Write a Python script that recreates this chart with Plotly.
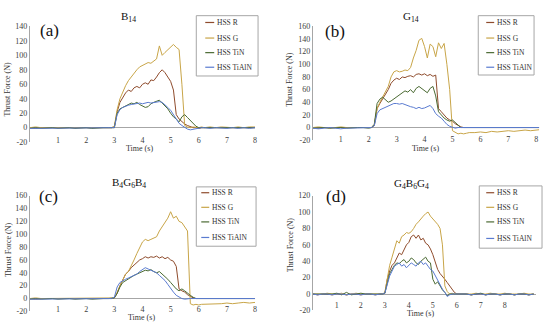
import numpy as np
import plotly.graph_objects as go

W, H = 550, 331
FONT = "Liberation Serif"

series_names = ["HSS R", "HSS G", "HSS TiN", "HSS TiAlN"]
colors = ["#8e4b2c", "#c8a548", "#4b6a33", "#5a7bd0"]

panel_titles = ["B<sub>14</sub>", "G<sub>14</sub>", "B<sub>4</sub>G<sub>6</sub>B<sub>4</sub>", "G<sub>4</sub>B<sub>6</sub>G<sub>4</sub>"]
panel_labels = ["(a)", "(b)", "(c)", "(d)"]
x_tick_values = [1, 2, 3, 4, 5, 6, 7, 8]
y_ticks_a = [-20, 0, 20, 40, 60, 80, 100, 120, 140]
y_ticks_b = [-20, 0, 20, 40, 60, 80, 100, 120, 140, 160]
y_ticks_c = [-20, 0, 20, 40, 60, 80, 100, 120, 140, 160]
y_ticks_d = [-20, 0, 20, 40, 60, 80, 100, 120]


def tgrid(pre_end, act_start, act_end, post_start, post_end):
    pre = np.arange(0, pre_end + 1e-9, 0.2)
    act = np.arange(act_start, act_end + 1e-9, 0.1)
    post = np.arange(post_start, post_end + 1e-9, 0.2)
    return np.round(np.concatenate([pre, act, post]), 2)


# time grids (s)
t_a = tgrid(2.8, 2.9, 6.2, 6.4, 8.0)
t_b = tgrid(2.0, 2.1, 5.6, 5.8, 8.2)
t_c = tgrid(2.8, 2.9, 6.2, 6.4, 8.0)
t_d = tgrid(2.8, 2.9, 6.2, 6.4, 9.2)

# ---- (a) B14 ----
a_R = [0,-1,0,0,-1,0,0,-1,0,0,-1,0,0,-1,0,
       0,1,22,35,42,48,52,50,55,57,55,60,62,60,66,65,70,76,80,76,70,64,52,18,12,8,5,3,1,0,0,-1,0,0,
       0,-1,0,0,-1,0,0,-1,0]
a_G = [0,1,0,0,1,0,1,0,0,1,0,0,1,0,0,
       0,2,25,40,50,58,65,70,76,80,84,86,88,90,89,92,95,113,100,104,108,112,115,111,108,60,3,1,0,1,0,0,1,0,
       1,0,1,0,0,1,0,1,1]
a_TiN = [-1,0,-1,0,0,-1,0,0,-1,0,0,-1,0,0,0,
         0,0,20,26,28,30,32,34,33,35,32,30,28,29,33,35,37,38,34,30,26,20,15,12,8,15,18,14,10,5,2,0,0,0,
         0,0,-1,0,0,-1,0,0,0]
a_TiAlN = [-1,-1,0,-1,-1,0,-1,-1,0,-1,0,-1,-1,0,-1,
           0,0,18,25,28,30,31,32,33,33,34,33,34,35,34,35,36,36,35,32,28,24,18,12,6,3,0,-2,-3,-2,-1,0,0,0,
           -1,0,-1,-1,0,-1,0,-1,0]

# ---- (b) G14 ----
b_R = [0,-1,0,0,-1,0,-1,0,0,-1,0,
       0,3,30,38,45,52,60,70,75,78,76,80,79,81,82,80,84,85,83,85,82,84,81,83,30,25,20,15,12,10,6,3,1,0,0,0,
       0,1,0,0,1,0,0,1,0,0,1,0,0]
b_G = [0,1,0,-1,0,1,0,0,1,0,0,
       0,5,30,40,48,55,65,80,88,90,88,89,91,90,95,110,122,138,141,128,110,132,128,112,134,125,133,100,60,-5,-8,-10,-9,-10,-9,-8,
       -8,-7,-8,-6,-7,-6,-5,-6,-5,-4,-5,-4,-3]
b_TiN = [-1,0,0,-1,0,0,-1,0,0,0,-1,
         0,5,38,45,48,44,40,42,45,48,52,55,58,56,60,55,62,65,62,58,55,62,65,50,25,20,15,12,10,12,8,3,0,0,0,0,
         0,0,-1,0,0,0,-1,0,0,0,-1,0,0]
b_TiAlN = [-1,-2,-1,0,-1,-2,-1,-1,0,-1,-1,
           0,3,22,28,30,32,34,36,38,38,37,38,36,35,33,32,30,32,30,31,33,35,30,22,18,15,10,5,2,0,-1,0,0,0,0,0,
           0,-1,0,0,-1,0,0,-1,0,0,-1,0,0]

# ---- (c) B4G6B4 ----
c_R = [0,-1,0,0,-1,0,0,-1,0,0,-1,0,0,-1,0,
       0,1,8,20,30,38,42,48,52,56,60,62,65,63,65,64,66,63,65,62,64,60,58,50,15,12,10,6,3,1,0,0,0,0,
       0,-1,0,0,-1,0,0,-1,0]
c_G = [0,1,0,0,1,0,1,0,0,1,0,0,1,0,0,
       0,1,10,20,30,38,42,50,60,70,80,88,92,90,92,94,96,105,112,120,125,135,125,128,120,118,112,105,-8,-10,-9,-10,-9,-9,
       -8,-9,-8,-7,-8,-7,-6,-7,-6]
c_TiN = [-1,0,-1,0,0,-1,0,0,-1,0,0,-1,0,0,0,
         0,1,8,18,25,28,30,33,36,38,40,42,44,43,45,42,40,42,38,35,30,25,20,15,12,15,12,8,5,2,0,0,0,0,
         0,0,-1,0,0,-1,0,0,0]
c_TiAlN = [-1,-1,0,-1,-1,0,-1,-1,0,-1,0,-1,-1,0,-1,
           0,2,18,25,28,30,32,34,36,38,42,45,48,46,44,42,40,36,32,28,22,15,10,5,2,0,-1,0,0,0,0,0,0,0,
           -1,0,-1,-1,0,-1,0,-1,0]

# ---- (d) G4B6G4 ----
d_R = [0,-1,0,0,-1,0,0,-1,0,0,-1,0,0,-1,0,
       0,1,18,28,35,38,45,50,48,55,60,63,70,72,68,72,66,68,62,60,55,48,40,30,25,22,18,14,10,6,2,0,0,0,
       0,-1,0,0,-1,0,0,-1,0,0,-1,0,0,-1,0]
d_G = [0,0,0,1,0,0,1,-1,0,1,0,0,0,0,0,
       0,2,20,35,45,55,65,62,70,72,75,74,76,80,85,88,92,95,98,100,95,92,88,85,80,60,10,3,0,1,0,0,0,0,
       0,0,1,0,0,1,0,0,1,0,0,0,1,0,0]
d_TiN = [0,0,0,0,0,1,-1,2,-1,0,1,0,0,0,0,
         0,1,15,25,30,35,38,37,40,42,38,40,44,42,38,36,40,42,45,40,38,18,12,15,10,5,2,-2,0,0,0,0,0,0,
         0,-1,0,1,-1,0,0,-1,0,0,-1,0,0,-1,0]
d_TiAlN = [0,-1,0,0,-1,0,0,-1,0,0,-1,0,0,-1,0,
           0,1,12,22,28,34,36,38,34,36,32,35,38,36,34,38,40,36,38,34,30,28,22,18,12,6,2,-3,-1,0,0,0,0,0,
           0,-1,0,0,-1,0,0,-1,0,0,-1,0,0,-1,0]

panels = [
    (t_a, [a_R, a_G, a_TiN, a_TiAlN]),
    (t_b, [b_R, b_G, b_TiN, b_TiAlN]),
    (t_c, [c_R, c_G, c_TiN, c_TiAlN]),
    (t_d, [d_R, d_G, d_TiN, d_TiAlN]),
]


def px(x):
    return x / W


def py(y):
    return 1 - y / H


fig = go.Figure()
for i, (t, ser) in enumerate(panels):
    sfx = "" if i == 0 else str(i + 1)
    for name, vals, col in zip(series_names, ser, colors):
        assert len(vals) == len(t), (i, name, len(vals), len(t))
        fig.add_trace(go.Scatter(x=t, y=vals, mode="lines", name=name,
                                 line=dict(color=col, width=1), showlegend=False,
                                 xaxis="x" + sfx, yaxis="y" + sfx))

# axis geometry (pixels)
geo = [
    # x0, x1, xrange, ytop, ybot, yrange, yticks, x tick-label row anchor
    (30, 256, [0, 8], 23, 142, [-20, 140], y_ticks_a, 134),
    (314, 541, [0, 8.1], 23, 140, [-20, 160], y_ticks_b, 133),
    (30, 256, [0, 8], 197, 316, [-20, 160], y_ticks_c, 307),
    (314, 538, [0, 9.3], 197, 315, [-20, 120], y_ticks_d, 303),
]

tickfont = dict(family=FONT, size=8, color="#404040")
layout_axes = {}
for i, (x0, x1, xr, yt, yb, yr, yticks, xpos) in enumerate(geo):
    sfx = "" if i == 0 else str(i + 1)
    layout_axes["xaxis" + sfx] = dict(
        domain=[px(x0), px(x1)], range=xr, anchor="free", position=py(xpos),
        showline=False, showgrid=False, zeroline=False, ticks="",
        tickvals=x_tick_values, ticktext=[str(v) for v in x_tick_values],
        ticklabeloverflow="allow",
        tickfont=tickfont, fixedrange=True)
    layout_axes["yaxis" + sfx] = dict(
        domain=[py(yb), py(yt)], range=yr, anchor="x" + sfx,
        showline=True, linecolor="#a6a6a6", linewidth=1, showgrid=False,
        zeroline=True, zerolinecolor="#a6a6a6", zerolinewidth=1, ticks="",
        tickvals=yticks, ticktext=[str(v) for v in yticks],
        tickfont=tickfont, fixedrange=True)

annotations = []
shapes = []


def ann(x, y, text, size, color="#222", angle=0, xanchor="center"):
    annotations.append(dict(x=px(x), y=py(y), xref="paper", yref="paper", text=text,
                            showarrow=False, xanchor=xanchor, yanchor="middle",
                            textangle=angle, font=dict(family=FONT, size=size, color=color)))


# titles, panel letters, axis titles
title_pos = [(129, 13), (413, 13), (129, 184), (413, 185)]
label_pos = [(50, 27), (336, 28), (49, 198), (337, 198)]
xtitle_pos = [(140, 149), (427, 149), (142, 322), (422, 318)]
ytitle_pos = [(8, 87), (291, 77), (8, 252), (291, 247)]
for i in range(4):
    ann(*title_pos[i], panel_titles[i], 11, "#111")
    ann(*label_pos[i], panel_labels[i], 17, "#111")
    ann(*xtitle_pos[i], "Time (s)", 8, "#333")
    ann(*ytitle_pos[i], "Thrust Force (N)", 8, "#333", angle=-90)

# legends (manual boxes)
legend_geo = [
    # box x0, x1, y0, y1, line x0, line x1, text x, entry ys
    (197, 259, 12, 74, 206, 215, 216, [19, 35, 50, 65]),
    (480, 536, 12, 73, 488, 496, 497, [19, 35, 50, 65]),
    (197, 257, 188, 249, 202, 210, 211, [194, 209, 224, 240]),
    (481, 544, 187, 251, 488, 496, 497, [194, 209, 224, 241]),
]
for (bx0, bx1, by0, by1, lx0, lx1, tx, ys) in legend_geo:
    shapes.append(dict(type="rect", xref="paper", yref="paper",
                       x0=px(bx0), x1=px(bx1), y0=py(by1), y1=py(by0),
                       line=dict(color="#a6a6a6", width=1), fillcolor="white", layer="above"))
    for name, col, yy in zip(series_names, colors, ys):
        shapes.append(dict(type="line", xref="paper", yref="paper",
                           x0=px(lx0), x1=px(lx1), y0=py(yy), y1=py(yy),
                           line=dict(color=col, width=1.2), layer="above"))
        ann(tx, yy, name, 7.5, "#333", xanchor="left")

fig.update_layout(
    width=W, height=H, margin=dict(l=0, r=0, t=0, b=0),
    paper_bgcolor="white", plot_bgcolor="white",
    showlegend=False, annotations=annotations, shapes=shapes,
    **layout_axes)

fig.write_html("out.html", config={"displayModeBar": False, "staticPlot": True},
               post_script="document.body.style.margin='0';document.body.style.overflow='hidden';")
